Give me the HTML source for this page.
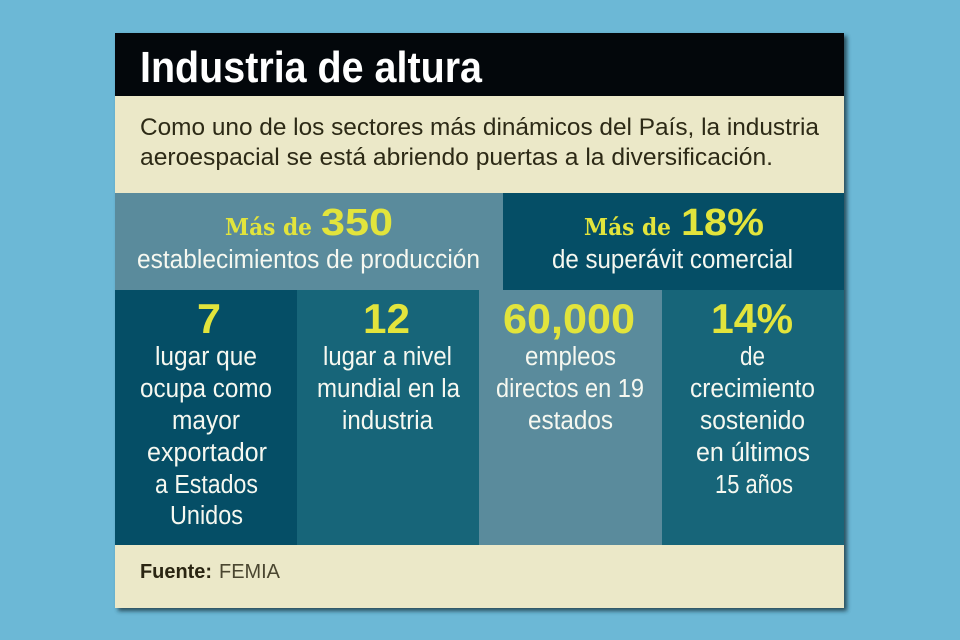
<!DOCTYPE html>
<html><head><meta charset="utf-8"><style>
html,body{margin:0;padding:0;background:#6cb8d6;}
svg{display:block;}
</style></head><body>
<svg width="960" height="640" viewBox="0 0 960 640" xmlns="http://www.w3.org/2000/svg">
<defs>
<filter id="sh" x="-5%" y="-5%" width="110%" height="110%"><feGaussianBlur stdDeviation="2"/></filter>
</defs>
<rect x="0" y="0" width="960" height="640" fill="#6cb8d6"/>
<rect x="118" y="36" width="729" height="575" fill="#1d3a46" opacity="0.85" filter="url(#sh)"/>
<rect x="115" y="33" width="729" height="63" fill="#03070b"/>
<rect x="115" y="96" width="729" height="97" fill="#ebe8c8"/>
<rect x="115" y="193" width="388" height="97" fill="#5a8b9c"/>
<rect x="503" y="193" width="341" height="97" fill="#054e66"/>
<rect x="115" y="290" width="182" height="255" fill="#054e66"/>
<rect x="297" y="290" width="182" height="255" fill="#176579"/>
<rect x="479" y="290" width="183" height="255" fill="#5a8b9c"/>
<rect x="662" y="290" width="182" height="255" fill="#176579"/>
<rect x="115" y="545" width="729" height="63" fill="#ebe8c8"/>

<g font-family="Liberation Sans, sans-serif">
<text x="140" y="82" font-size="44" font-weight="bold" fill="#ffffff" textLength="342" lengthAdjust="spacingAndGlyphs">Industria de altura</text>

<text x="140" y="135" font-size="24" fill="#2d2a16" textLength="679" lengthAdjust="spacingAndGlyphs">Como uno de los sectores más dinámicos del País, la industria</text>
<text x="140" y="165" font-size="24" fill="#2d2a16" textLength="633" lengthAdjust="spacingAndGlyphs">aeroespacial se está abriendo puertas a la diversificación.</text>

<text x="225" y="235" font-family="DejaVu Serif, serif" font-size="23" font-weight="bold" fill="#e2e43c" textLength="87" lengthAdjust="spacingAndGlyphs">Más de</text>
<text x="321" y="235" font-size="38" font-weight="bold" fill="#e2e43c" textLength="72" lengthAdjust="spacingAndGlyphs">350</text>
<text x="137" y="268" font-size="25.5" fill="#f6f8f0" textLength="343" lengthAdjust="spacingAndGlyphs">establecimientos de producción</text>

<text x="584" y="235" font-family="DejaVu Serif, serif" font-size="23" font-weight="bold" fill="#e2e43c" textLength="87" lengthAdjust="spacingAndGlyphs">Más de</text>
<text x="681" y="235" font-size="38" font-weight="bold" fill="#e2e43c" textLength="83" lengthAdjust="spacingAndGlyphs">18%</text>
<text x="552" y="268" font-size="25.5" fill="#f6f8f0" textLength="241" lengthAdjust="spacingAndGlyphs">de superávit comercial</text>

<g font-size="42" font-weight="bold" fill="#e2e43c">
<text x="197" y="333" textLength="24" lengthAdjust="spacingAndGlyphs">7</text>
<text x="363" y="333" textLength="47" lengthAdjust="spacingAndGlyphs">12</text>
<text x="503" y="333" textLength="132" lengthAdjust="spacingAndGlyphs">60,000</text>
<text x="711" y="333" textLength="82" lengthAdjust="spacingAndGlyphs">14%</text>
</g>

<g font-size="25.5" fill="#f6f8f0">
<text x="155" y="365" textLength="102" lengthAdjust="spacingAndGlyphs">lugar que</text>
<text x="140" y="397" textLength="132" lengthAdjust="spacingAndGlyphs">ocupa como</text>
<text x="172" y="429" textLength="68" lengthAdjust="spacingAndGlyphs">mayor</text>
<text x="147" y="461" textLength="120" lengthAdjust="spacingAndGlyphs">exportador</text>
<text x="155" y="493" textLength="103" lengthAdjust="spacingAndGlyphs">a Estados</text>
<text x="170" y="524" textLength="73" lengthAdjust="spacingAndGlyphs">Unidos</text>

<text x="323" y="365" textLength="129" lengthAdjust="spacingAndGlyphs">lugar a nivel</text>
<text x="317" y="397" textLength="143" lengthAdjust="spacingAndGlyphs">mundial en la</text>
<text x="342" y="429" textLength="91" lengthAdjust="spacingAndGlyphs">industria</text>

<text x="525" y="365" textLength="91" lengthAdjust="spacingAndGlyphs">empleos</text>
<text x="496" y="397" textLength="148" lengthAdjust="spacingAndGlyphs">directos en 19</text>
<text x="528" y="429" textLength="85" lengthAdjust="spacingAndGlyphs">estados</text>

<text x="740" y="365" textLength="25" lengthAdjust="spacingAndGlyphs">de</text>
<text x="690" y="397" textLength="125" lengthAdjust="spacingAndGlyphs">crecimiento</text>
<text x="700" y="429" textLength="105" lengthAdjust="spacingAndGlyphs">sostenido</text>
<text x="696" y="461" textLength="114" lengthAdjust="spacingAndGlyphs">en últimos</text>
<text x="715" y="493" textLength="78" lengthAdjust="spacingAndGlyphs">15 años</text>
</g>

<text x="140" y="578" font-size="20" font-weight="bold" fill="#2a2512" textLength="72" lengthAdjust="spacingAndGlyphs">Fuente:</text>
<text x="219" y="578" font-size="20" fill="#4a4630" textLength="61" lengthAdjust="spacingAndGlyphs">FEMIA</text>
</g>
</svg>
</body></html>
